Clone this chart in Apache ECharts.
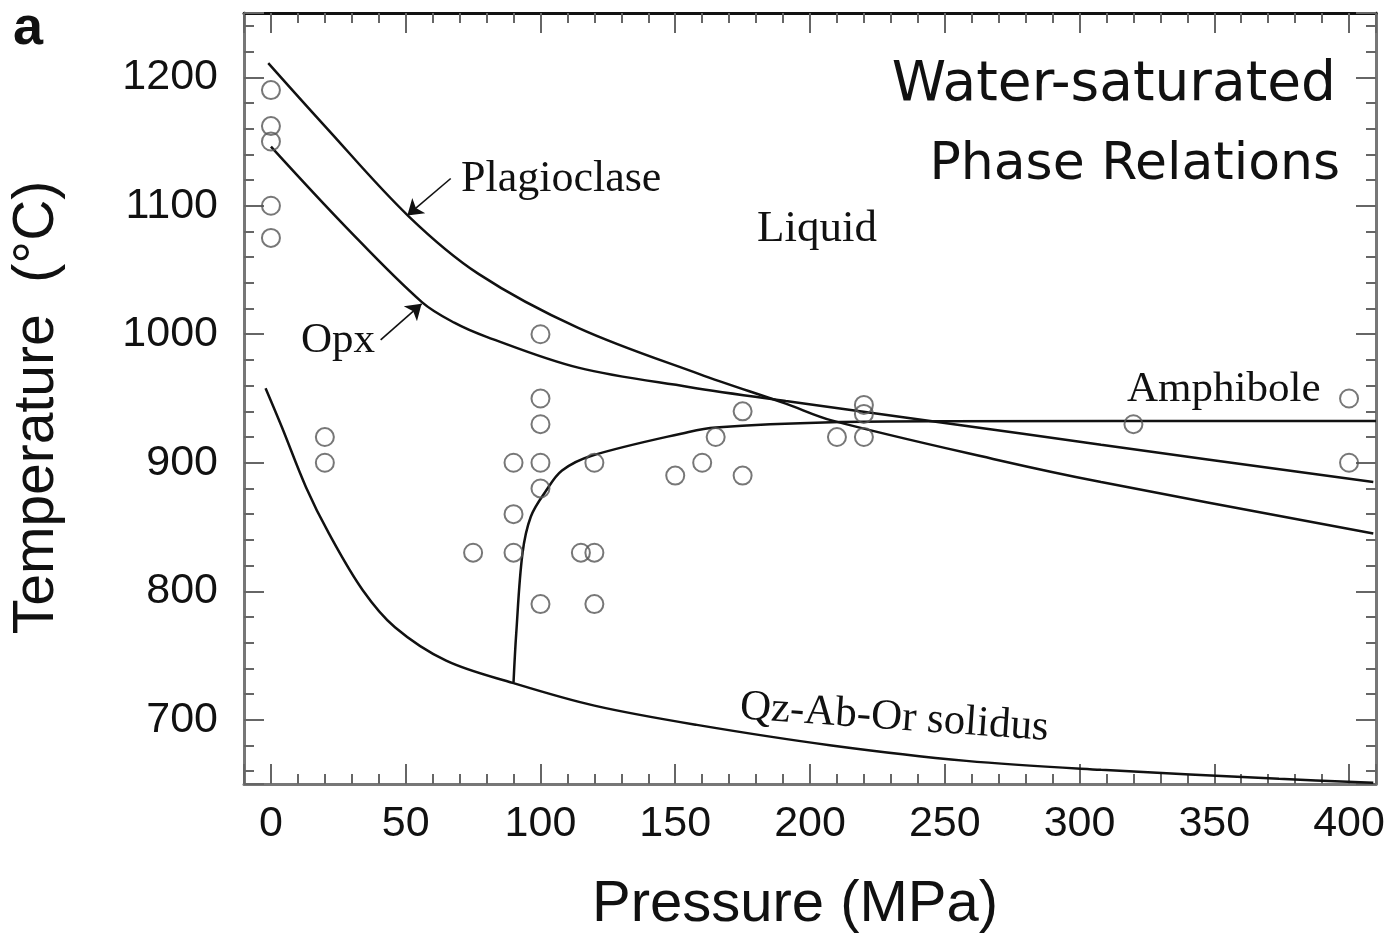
<!DOCTYPE html>
<html>
<head>
<meta charset="utf-8">
<script src="https://cdn.jsdelivr.net/npm/echarts@6/dist/echarts.min.js"></script>
<style>html,body{margin:0;padding:0;background:#fff}#c{width:1393px;height:936px}</style>
</head>
<body>
<div id="c"></div>
<script>
// ---- tick labels ----
const xTickLabels = [0, 50, 100, 150, 200, 250, 300, 350, 400];
const yTickLabels = [700, 800, 900, 1000, 1100, 1200];

// ---- phase boundary curves (Pressure MPa, Temperature °C) ----
const plagioclaseP = [-1, 20, 51, 77, 114, 159, 191, 208, 270, 308, 409];
const plagioclaseT = [1211, 1162, 1092, 1047, 1005, 969, 946, 933, 902, 885, 845];

const opxP = [0, 28, 56, 68, 80, 114, 155, 191, 250, 308, 409];
const opxT = [1146, 1083, 1025, 1009, 998, 974, 959, 948, 931, 914, 885];

const amphiboleP = [90, 91, 93.3, 96.4, 102, 108, 119, 155, 165, 208, 250, 410];
const amphiboleT = [729, 767, 829, 858, 878, 894, 905.5, 924, 927.5, 931.5, 932.3, 932.5];

const solidusP = [-2, 4, 13, 21.5, 34, 46, 65, 90, 120, 158, 208, 258, 308, 374, 409];
const solidusT = [958, 928, 881, 845, 801, 772, 746, 728.5, 711, 696, 680, 668, 661, 654, 651];

// ---- experiments ----
const expP = [0, 0, 0, 0, 0, 20, 20, 75, 90, 90, 90, 100, 100, 100, 100, 100, 100,
              115, 120, 120, 120, 150, 160, 165, 175, 175, 210, 220, 220, 220, 320, 400, 400];
const expT = [1190, 1162, 1150, 1100, 1075, 920, 900, 830, 900, 860, 830, 1000, 950, 930, 900, 880, 790,
              830, 830, 900, 790, 890, 900, 920, 940, 890, 920, 945, 938, 920, 930, 950, 900];

// ---- arrows (tail -> tip) ----
const plagArrowP = [66.7, 50.6];
const plagArrowT = [1121.2, 1092.5];
const opxArrowP = [40.7, 55.9];
const opxArrowT = [995.7, 1023.7];

function pairs(a, b) { return a.map((v, i) => [v, b[i]]); }

const axisGray = '#777';
const tickGray = '#666';
const ink = '#111';

function makeX(position, showLabels, lineColor) {
  return {
    type: 'value', position: position, min: -10, max: 410, splitNumber: 8,
    axisLine: { show: true, onZero: false, lineStyle: { color: lineColor, width: 3 } },
    axisTick: { show: true, inside: true, length: 20, lineStyle: { color: tickGray, width: 2 } },
    minorTick: { show: true, splitNumber: 5, length: 10, lineStyle: { color: tickGray, width: 2 } },
    splitLine: { show: false }, minorSplitLine: { show: false },
    axisLabel: {
      show: showLabels, margin: 19, fontSize: 43, fontFamily: 'Liberation Sans', color: ink,
      formatter: v => xTickLabels.includes(v) ? String(v) : ''
    }
  };
}
function makeY(position, showLabels) {
  return {
    type: 'value', position: position, min: 650, max: 1250, splitNumber: 6,
    axisLine: { show: true, onZero: false, lineStyle: { color: axisGray, width: 3 } },
    axisTick: { show: true, inside: true, length: 20, lineStyle: { color: tickGray, width: 2 } },
    minorTick: { show: true, splitNumber: 5, length: 10, lineStyle: { color: tickGray, width: 2 } },
    splitLine: { show: false }, minorSplitLine: { show: false },
    axisLabel: {
      show: showLabels, margin: 26, fontSize: 43, fontFamily: 'Liberation Sans', color: ink,
      formatter: v => yTickLabels.includes(v) ? String(v) : ''
    }
  };
}

const xBottom = makeX('bottom', true, axisGray);
xBottom.name = 'Pressure (MPa)';
xBottom.nameLocation = 'middle';
xBottom.nameGap = 92;
xBottom.nameTextStyle = { fontSize: 58, fontFamily: 'Liberation Sans', color: ink, padding: [0, 30, 0, 0] };
const xTop = makeX('top', false, '#111');

const yLeft = makeY('left', true);
yLeft.name = 'Temperature  (°C)';
yLeft.nameLocation = 'middle';
yLeft.nameGap = 178;
yLeft.nameTextStyle = { fontSize: 57, fontFamily: 'Liberation Sans', color: ink, padding: [0, 18, 0, 0] };
const yRight = makeY('right', false);

function curve(name, P, T) {
  return {
    name: name, type: 'line', xAxisIndex: 0, yAxisIndex: 0,
    data: pairs(P, T), showSymbol: false, symbol: 'none',
    smooth: 0.35,
    lineStyle: { color: ink, width: 2.5 }, z: 3, silent: true
  };
}
function arrow(P, T) {
  return {
    type: 'lines', coordinateSystem: 'cartesian2d', xAxisIndex: 0, yAxisIndex: 0,
    symbol: ['none', 'arrow'], symbolSize: 15,
    lineStyle: { color: ink, width: 1.6, opacity: 1 },
    data: [{ coords: pairs(P, T) }], z: 4, silent: true
  };
}

const labelFont = '"Liberation Serif", "Times New Roman", serif';
function label(txt, x, y, size, extra) {
  return Object.assign({
    type: 'text', x: x, y: y,
    style: { text: txt, font: size + 'px ' + labelFont, fill: ink, align: 'left', verticalAlign: 'middle', textAlign: 'left', textVerticalAlign: 'middle' }
  }, extra || {});
}

const option = {
  animation: false,
  backgroundColor: '#fff',
  grid: { left: 244, right: 17, top: 13, bottom: 152, containLabel: false, outerBoundsMode: 'none' },
  xAxis: [xBottom, xTop],
  yAxis: [yLeft, yRight],
  series: [
    curve('Plagioclase', plagioclaseP, plagioclaseT),
    curve('Opx', opxP, opxT),
    curve('Amphibole', amphiboleP, amphiboleT),
    curve('Qz-Ab-Or solidus', solidusP, solidusT),
    {
      name: 'Experiments', type: 'scatter', xAxisIndex: 0, yAxisIndex: 0,
      data: pairs(expP, expT), symbol: 'circle', symbolSize: 18,
      itemStyle: { color: 'rgba(0,0,0,0)', borderColor: '#555', borderWidth: 2 }, z: 5, silent: true
    },
    arrow(plagArrowP, plagArrowT),
    arrow(opxArrowP, opxArrowT)
  ],
  graphic: [
    { type: 'text', x: 13, y: 29, style: { text: 'a', font: 'bold 54px "Liberation Sans", Arial, sans-serif', fill: ink, align: 'left', verticalAlign: 'middle', textAlign: 'left', textVerticalAlign: 'middle' } },
    { type: 'text', x: 1336, y: 86, style: { text: 'Water-saturated', font: '55px "DejaVu Sans", sans-serif', fill: ink, align: 'right', verticalAlign: 'middle', textAlign: 'right', textVerticalAlign: 'middle' } },
    { type: 'text', x: 1340, y: 165, style: { text: 'Phase Relations', font: '52px "DejaVu Sans", sans-serif', fill: ink, align: 'right', verticalAlign: 'middle', textAlign: 'right', textVerticalAlign: 'middle' } },
    label('Plagioclase', 461, 179, 44),
    label('Liquid', 757, 229, 45),
    label('Opx', 301, 341, 43),
    label('Amphibole', 1127, 390, 43),
    label('Qz-Ab-Or solidus', 740, 707, 43, { rotation: -0.07 })
  ]
};

const chart = echarts.init(document.getElementById('c'), null, { renderer: 'canvas' });
chart.setOption(option);
</script>
</body>
</html>
